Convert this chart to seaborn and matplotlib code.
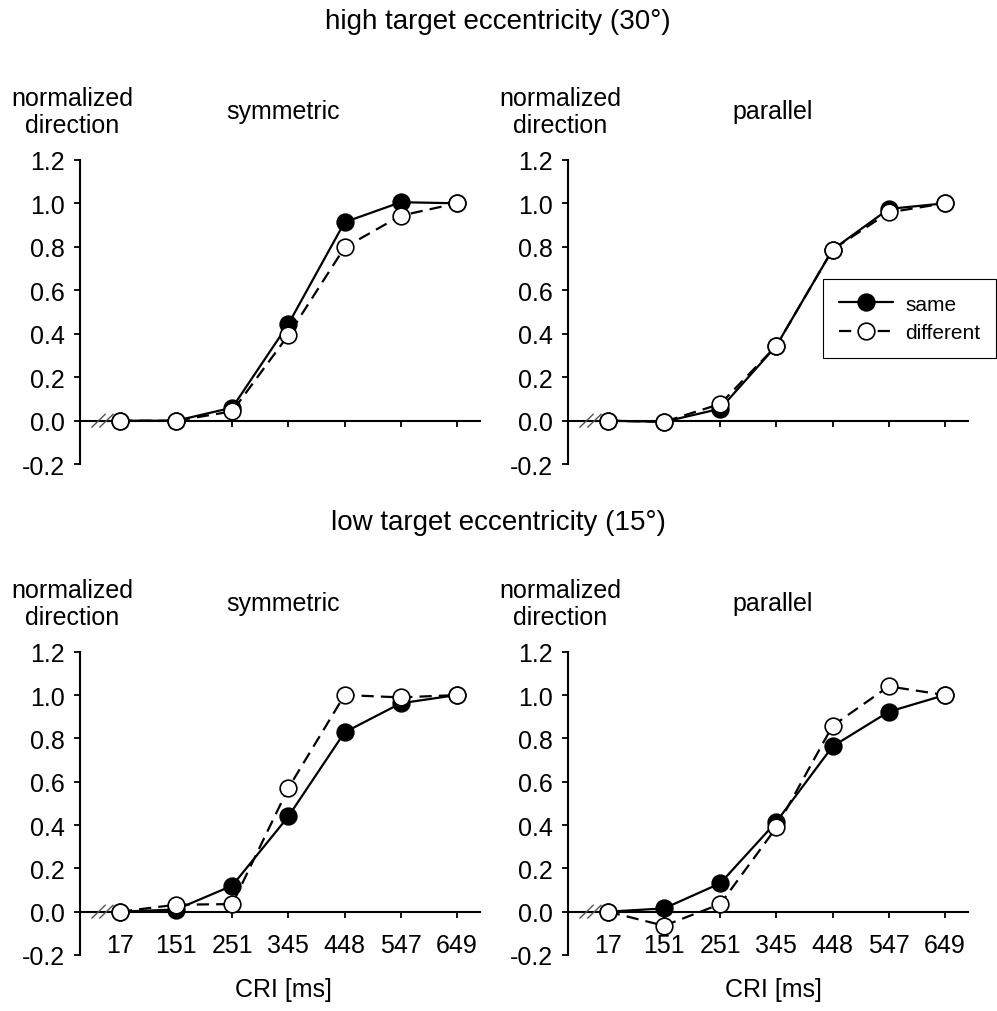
import matplotlib
matplotlib.use("Agg")
import matplotlib.pyplot as plt
import seaborn as sns
import pandas as pd

# ---------------- data ----------------
cri_labels = ["17", "151", "251", "345", "448", "547", "649"]
y_ticks = [-0.2, 0.0, 0.2, 0.4, 0.6, 0.8, 1.0, 1.2]

hi_sym_same = [0.0, 0.0, 0.06, 0.445, 0.913, 1.005, 1.0]
hi_sym_diff = [0.0, 0.0, 0.043, 0.394, 0.797, 0.943, 1.0]
hi_par_same = [0.0, -0.005, 0.055, 0.345, 0.787, 0.974, 1.0]
hi_par_diff = [0.0, -0.005, 0.077, 0.345, 0.787, 0.958, 1.0]
lo_sym_same = [0.0, 0.01, 0.12, 0.44, 0.828, 0.962, 1.0]
lo_sym_diff = [0.0, 0.032, 0.035, 0.571, 1.0, 0.989, 1.0]
lo_par_same = [0.0, 0.015, 0.131, 0.415, 0.763, 0.923, 1.0]
lo_par_diff = [0.0, -0.065, 0.035, 0.389, 0.858, 1.04, 1.0]

row_titles = ["high target eccentricity (30°)", "low target eccentricity (15°)"]
col_titles = ["symmetric", "parallel"]
ylabel_text = "normalized\ndirection"
xlabel_text = "CRI [ms]"
legend_labels = ["same", "different"]

# ---------------- style ----------------
sns.set_theme(style="white")
plt.rcParams["font.family"] = ["Liberation Sans", "DejaVu Sans"]
plt.rcParams["axes.unicode_minus"] = False
plt.rcParams["text.color"] = "black"

W, H = 997, 1012
fig = plt.figure(figsize=(W / 100, H / 100), dpi=100)


def fx(px):
    return px / W


def fy(py):
    return 1 - py / H


# axes placement in pixels: (left, right, top(1.2), bottom(-0.2))
panel_px = {
    (0, 0): (80, 480, 160.8, 465.2),
    (0, 1): (568, 968, 160.8, 465.2),
    (1, 0): (80, 480, 652.7, 956.0),
    (1, 1): (568, 968, 652.7, 956.0),
}

series = {
    (0, 0): (hi_sym_same, hi_sym_diff),
    (0, 1): (hi_par_same, hi_par_diff),
    (1, 0): (lo_sym_same, lo_sym_diff),
    (1, 1): (lo_par_same, lo_par_diff),
}

TICK_FS = 18
LBL_FS = 18
TITLE_FS = 20
LW = 1.6
MS = 12

legend_ax = None
for (r, c), (l, rgt, t, b) in panel_px.items():
    ax = fig.add_axes([fx(l), fy(b), fx(rgt - l), (b - t) / H])
    same, diff = series[(r, c)]
    pos = list(range(len(cri_labels)))
    df_same = pd.DataFrame({"pos": pos, "value": same})
    df_diff = pd.DataFrame({"pos": pos, "value": diff})
    is_leg = (r, c) == (0, 1)
    sns.lineplot(data=df_same, x="pos", y="value", ax=ax, color="black",
                 linewidth=LW, marker="o", markersize=MS, markerfacecolor="black",
                 markeredgecolor="black", markeredgewidth=1.2, sort=False,
                 label=legend_labels[0] if is_leg else None, legend=False,
                 clip_on=False, zorder=3)
    sns.lineplot(data=df_diff, x="pos", y="value", ax=ax, color="black",
                 linewidth=LW, linestyle=(0, (5.5, 3.2)), marker="o", markersize=MS,
                 markerfacecolor="white", markeredgecolor="black",
                 markeredgewidth=1.2, sort=False,
                 label=legend_labels[1] if is_leg else None, legend=False,
                 clip_on=False, zorder=4)
    ax.set_xlim(-0.71, 6.41)
    ax.set_ylim(-0.2, 1.2)
    ax.set_yticks(y_ticks)
    ax.set_yticklabels([f"{v:.1f}" for v in y_ticks])
    ax.set_xticks(pos)
    if r == 1:
        ax.set_xticklabels(cri_labels)
    else:
        ax.set_xticklabels([""] * len(pos))
    ax.set_xlabel("")
    ax.set_ylabel("")
    for s in ["top", "right"]:
        ax.spines[s].set_visible(False)
    ax.spines["left"].set_color("black")
    ax.spines["left"].set_linewidth(1.5)
    ax.spines["bottom"].set_color("black")
    ax.spines["bottom"].set_linewidth(1.5)
    ax.spines["bottom"].set_position(("data", 0.0))
    ax.tick_params(axis="both", direction="out", length=4, width=1.3,
                   color="black", labelsize=TICK_FS, labelcolor="black")
    ax.tick_params(axis="y", pad=7, left=True)
    ax.tick_params(axis="x", pad=11, bottom=True)
    ax.set_facecolor("none")
    ax.grid(False)

    # axis break marks "//"
    ax.plot([-0.44, -0.26], [0.0, 0.0], color="white", linewidth=3,
            clip_on=False, zorder=2.5, solid_capstyle="butt")
    for x0 in (-0.5, -0.36):
        ax.plot([x0, x0 + 0.24], [-0.03, 0.03], color="#555555", linewidth=1.0,
                clip_on=False, zorder=2.6)

    if is_leg:
        legend_ax = ax

    # panel texts
    fig.text(fx(l - 8), fy(t - 48), ylabel_text, ha="center", va="center",
             fontsize=LBL_FS, linespacing=1.15, color="black")
    title_x = 283 if c == 0 else 773
    fig.text(fx(title_x), fy(t - 49), col_titles[c], ha="center", va="center",
             fontsize=LBL_FS, color="black")
    if r == 1:
        fig.text(fx(title_x), fy(990), xlabel_text, ha="center", va="center",
                 fontsize=LBL_FS, color="black")

fig.text(fx(498), fy(22), row_titles[0], ha="center", va="center",
         fontsize=TITLE_FS, color="black")
fig.text(fx(498), fy(523), row_titles[1], ha="center", va="center",
         fontsize=TITLE_FS, color="black")

leg = legend_ax.legend(loc="upper left", bbox_to_anchor=(fx(823), fy(280)),
                       bbox_transform=fig.transFigure, fontsize=15,
                       frameon=True, fancybox=False, framealpha=1,
                       edgecolor="black", handlelength=2.6, borderpad=0.75,
                       labelspacing=0.45, handletextpad=0.6, borderaxespad=0)
leg.get_frame().set_linewidth(0.8)
for txt in leg.get_texts():
    txt.set_color("black")

fig.savefig("out.png", dpi=100, facecolor="white")
